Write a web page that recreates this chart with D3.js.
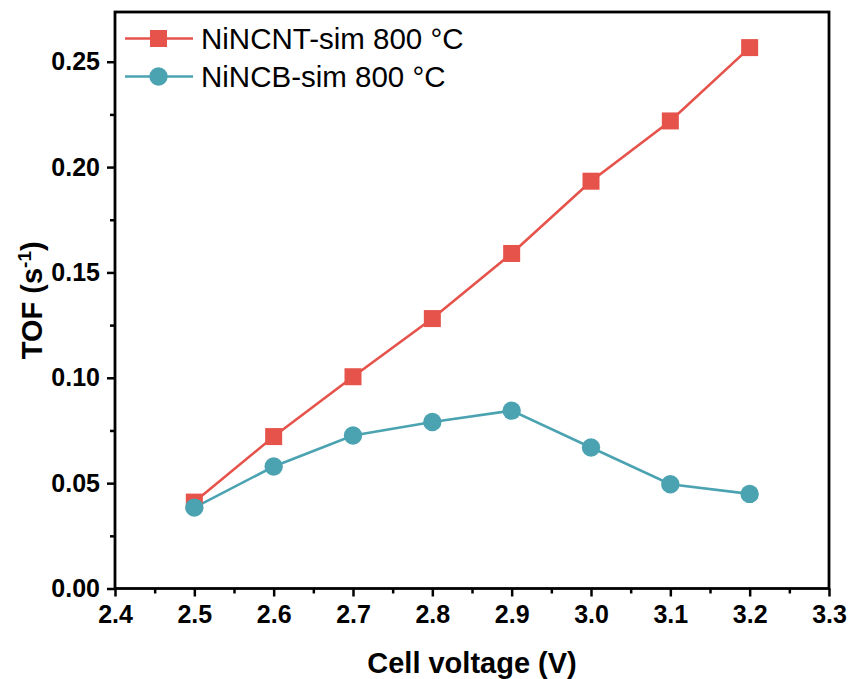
<!DOCTYPE html>
<html><head><meta charset="utf-8">
<script src="https://cdn.jsdelivr.net/npm/d3@7"></script>
<style>body{margin:0;background:#fff}svg{display:block}text{font-family:"Liberation Sans",Arial,sans-serif}</style>
</head><body>
<svg id="c" width="849" height="679"></svg>
<script>
const voltages = [2.5, 2.6, 2.7, 2.8, 2.9, 3.0, 3.1, 3.2];
const ninCNT = [0.041, 0.0721, 0.1005, 0.1281, 0.159, 0.1933, 0.2219, 0.2567];
const ninCB = [0.0384, 0.0579, 0.0726, 0.079, 0.0844, 0.0669, 0.0495, 0.0449];
const seriesNames = ["NiNCNT-sim 800 °C", "NiNCB-sim 800 °C"];
const xTicks = [2.4, 2.5, 2.6, 2.7, 2.8, 2.9, 3.0, 3.1, 3.2, 3.3];
const yTicks = [0.00, 0.05, 0.10, 0.15, 0.20, 0.25];

const svg = d3.select("#c");
const L = 115, R = 829, T = 12, B = 588.5;
const x = d3.scaleLinear().domain([2.4, 3.3]).range([L, R]);
const y = d3.scaleLinear().domain([0, 0.2736]).range([B, T]);
const red = "#e5534b", teal = "#4ba3b2";

const xMinor = d3.range(2.45, 3.3, 0.1);
const yMinor = d3.range(0.025, 0.27, 0.05);
const xAxis = d3.axisBottom(x).tickValues(xTicks).tickFormat(d3.format(".1f")).tickSize(8).tickPadding(9);
const yAxis = d3.axisLeft(y).tickValues(yTicks).tickFormat(d3.format(".2f")).tickSize(8).tickPadding(7);

const gx = svg.append("g").attr("transform", `translate(0,${B})`).call(xAxis);
const gy = svg.append("g").attr("transform", `translate(${L},0)`).call(yAxis);
svg.append("g").attr("transform", `translate(0,${B})`).call(d3.axisBottom(x).tickValues(xMinor).tickFormat("").tickSize(5)).select(".domain").remove();
svg.append("g").attr("transform", `translate(${L},0)`).call(d3.axisLeft(y).tickValues(yMinor).tickFormat("").tickSize(5)).select(".domain").remove();
[gx, gy].forEach(g => {
  g.select(".domain").remove();
  g.selectAll("text").attr("font-size", 25).attr("font-weight", "bold").attr("fill", "#000");
});
svg.selectAll(".tick line").attr("stroke", "#000").attr("stroke-width", 2.5);

svg.append("rect").attr("x", L).attr("y", T).attr("width", R - L).attr("height", B - T)
  .attr("fill", "none").attr("stroke", "#000").attr("stroke-width", 2.8);

svg.append("text").attr("x", (L + R) / 2).attr("y", 673).attr("text-anchor", "middle")
  .attr("font-size", 29).attr("font-weight", "bold").text("Cell voltage (V)");
const yt = svg.append("text").attr("transform", `translate(42,${(T + B) / 2}) rotate(-90)`)
  .attr("text-anchor", "middle").attr("font-size", 29).attr("font-weight", "bold");
yt.append("tspan").text("TOF (s");
yt.append("tspan").attr("font-size", 19).attr("dy", -11).text("-1");
yt.append("tspan").attr("dy", 11).text(")");

const line = d3.line().x((d, i) => x(voltages[i])).y(d => y(d));
const data = [ninCNT, ninCB];
const colors = [red, teal];

data.forEach((vals, k) => {
  svg.append("path").datum(vals).attr("d", line).attr("fill", "none")
    .attr("stroke", colors[k]).attr("stroke-width", 2.6);
});
svg.selectAll(".sq").data(ninCNT).enter().append("rect")
  .attr("x", (d, i) => x(voltages[i]) - 8.5).attr("y", d => y(d) - 8.5)
  .attr("width", 17).attr("height", 17).attr("fill", red);
svg.selectAll(".ci").data(ninCB).enter().append("circle")
  .attr("cx", (d, i) => x(voltages[i])).attr("cy", d => y(d)).attr("r", 9.2).attr("fill", teal);

const legY = [38.5, 76.5];
seriesNames.forEach((name, k) => {
  const g = svg.append("g");
  g.append("line").attr("x1", 125).attr("x2", 193).attr("y1", legY[k]).attr("y2", legY[k])
    .attr("stroke", colors[k]).attr("stroke-width", 2.6);
  if (k === 0) g.append("rect").attr("x", 150).attr("y", legY[k] - 8.5).attr("width", 17).attr("height", 17).attr("fill", red);
  else g.append("circle").attr("cx", 158.5).attr("cy", legY[k]).attr("r", 9.2).attr("fill", teal);
  g.append("text").attr("x", 201).attr("y", legY[k] + 10).attr("font-size", 29.5).attr("fill", "#000").text(name);
});
</script>
</body></html>
